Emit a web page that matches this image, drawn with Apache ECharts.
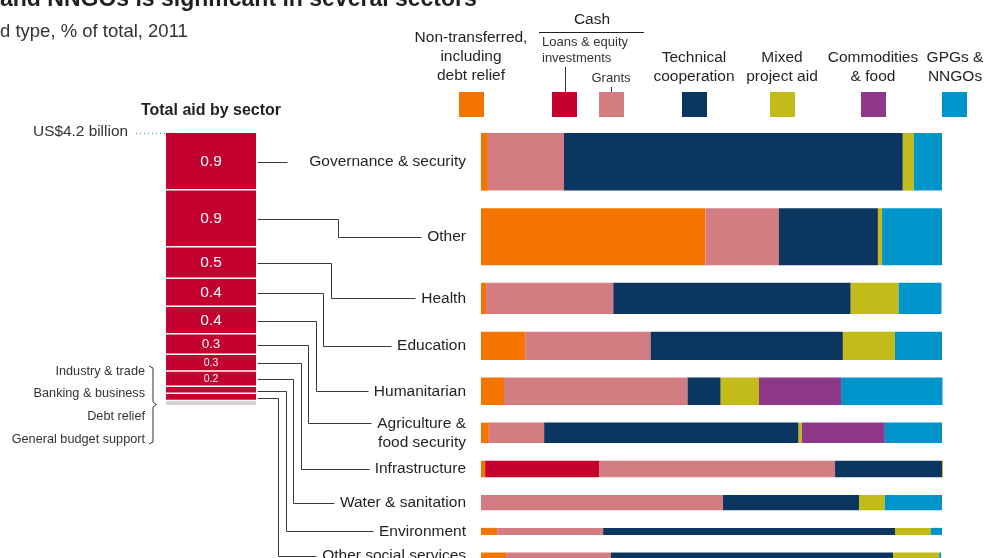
<!DOCTYPE html>
<html>
<head>
<meta charset="utf-8">
<script src="https://cdn.jsdelivr.net/npm/echarts@6/dist/echarts.min.js"></script>
<style>html,body{margin:0;padding:0;background:#fff}#c{width:984px;height:558px}</style>
</head>
<body>
<div id="c"></div>
<script>
// ---------------- DATA ----------------
const sectors = ['Governance & security', 'Other', 'Health', 'Education', 'Humanitarian',
  'Agriculture &\nfood security', 'Infrastructure', 'Water & sanitation', 'Environment', 'Other social services'];
const totalAid = [0.9, 0.89, 0.49, 0.44, 0.43, 0.32, 0.26, 0.24, 0.11, 0.11]; // US$ billion
const smallSectors = ['Industry & trade', 'Banking & business', 'Debt relief', 'General budget support'];
const smallAid = [0.015, 0.015, 0.015, 0.015];
const totalLabel = 'US$4.2 billion';

const aidTypes = ['Non-transferred, including debt relief', 'Loans & equity investments', 'Grants',
  'Technical cooperation', 'Mixed project aid', 'Commodities & food', 'GPGs & NNGOs'];
// % of sector total
const nonTransferred = [1.5, 48.7, 1.1, 9.6, 5.0, 1.7, 0.9, 0, 3.5, 5.6];
const loansEquity    = [0, 0, 0, 0, 0, 0, 24.7, 0, 0, 0];
const grants         = [16.5, 15.9, 27.6, 27.2, 39.8, 12.0, 51.2, 52.5, 23.0, 22.6];
const technical      = [73.5, 21.5, 51.5, 41.7, 7.2, 55.2, 23.2, 29.5, 63.3, 61.2];
const mixedProject   = [2.4, 0.9, 10.4, 11.3, 8.3, 0.7, 0.2, 5.6, 7.8, 10.0];
const commodities    = [0, 0, 0, 0, 17.8, 18.0, 0, 0, 0, 0];
const gpgsNngos      = [6.1, 13.0, 9.3, 10.2, 22.0, 12.4, 0, 12.4, 2.4, 0.4];

// ---------------- STYLE / LAYOUT ----------------
const shares = [nonTransferred, loansEquity, grants, technical, mixedProject, commodities, gpgsNngos];
const colors = ['#F37500', '#C4002F', '#D37C82', '#0B3660', '#C2BB1A', '#8F3889', '#0094CB'];
const FONT = '"Liberation Sans", Arial, sans-serif';
const TXT = '#231f20';
const GAP = 0.275;            // gap between bars, in axis units
const GRID_TOP = 133, GRID_H = 425, PX_PER_UNIT = 64;
const Y_MAX = GRID_H / PX_PER_UNIT;
const COL_LEFT = 166, COL_W = 90, BAR_LEFT = 481, BAR_RIGHT = 42;

// row positions (axis units) derived from data
const rowStart = [];
let acc = 0;
totalAid.forEach((v, i) => { rowStart.push(acc); acc += v + GAP; });
const colStart = [];
let c = 0;
totalAid.forEach(v => { colStart.push(c); c += v; });
const smallStart = [];
smallAid.forEach(v => { smallStart.push(c); c += v; });

const measure = document.createElement('canvas').getContext('2d');
measure.font = '15.5px ' + FONT;

// ---------------- SERIES ----------------
const series = [];
shares.forEach((arr, k) => {
  const data = arr.map((v, i) => {
    let s = 0;
    for (let j = 0; j < k; j++) s += shares[j][i];
    return [s, s + v, rowStart[i], rowStart[i] + totalAid[i]];
  });
  series.push({
    type: 'custom', name: aidTypes[k], xAxisIndex: 1, yAxisIndex: 1, clip: false,
    encode: { x: [0, 1], y: [2, 3] },
    data: data,
    renderItem: function (params, api) {
      const a = api.coord([api.value(0), api.value(2)]);
      const b = api.coord([api.value(1), api.value(3)]);
      if (b[0] - a[0] <= 0) return null;
      return { type: 'rect', shape: { x: a[0], y: a[1], width: b[0] - a[0], height: b[1] - a[1] },
        style: { fill: colors[k] } };
    }
  });
});

// left column
const colData = totalAid.map((v, i) => [0, 1, colStart[i], colStart[i] + v, v, 0])
  .concat(smallAid.map((v, i) => [0, 1, smallStart[i], smallStart[i] + v, v, 1]));
series.push({
  type: 'custom', xAxisIndex: 0, yAxisIndex: 0, clip: false,
  encode: { x: [0, 1], y: [2, 3] },
  data: colData,
  renderItem: function (params, api) {
    const a = api.coord([api.value(0), api.value(2)]);
    const b = api.coord([api.value(1), api.value(3)]);
    const small = api.value(5) === 1;
    const h = b[1] - a[1];
    const children = [{
      type: 'rect',
      shape: { x: a[0], y: a[1], width: b[0] - a[0], height: small ? h : Math.max(h - 1.5, 1) },
      style: { fill: small ? '#d6d0d2' : '#C4002F' }
    }];
    if (!small && h >= 12) {
      const fs = Math.max(10.5, Math.min(15.5, h - 7));
      children.push({
        type: 'text',
        style: { text: api.value(4).toFixed(1), x: (a[0] + b[0]) / 2, y: a[1] + h / 2 - 0.5,
          align: 'center', verticalAlign: 'middle', fill: '#fff', fontSize: fs, fontFamily: FONT }
      });
    }
    return { type: 'group', children: children };
  }
});

// connectors + sector labels
const connData = sectors.map((s, i) => [0, rowStart[i] + totalAid[i] / 2, colStart[i] + totalAid[i] / 2, i]);
series.push({
  type: 'custom', xAxisIndex: 1, yAxisIndex: 1, clip: false,
  encode: { x: 0, y: 1 },
  data: connData,
  renderItem: function (params, api) {
    const i = api.value(3);
    const pr = api.coord([0, api.value(1)]);
    const pc = api.coord([0, api.value(2)]);
    const lines = sectors[i].split('\n');
    const lh = 19;
    const labelRight = pr[0] - 15;
    const firstY = pr[1] - (lines.length - 1) * lh / 2;
    const w = measure.measureText(lines[0]).width;
    const endX = labelRight - w - 6;
    const x0 = COL_LEFT + COL_W + 1;
    const elbow = i === 0 ? 287 : 338 - 7.5 * (i - 1);
    const pts = i === 0 ? [[x0, pc[1]], [elbow, pc[1]]]
      : [[x0, pc[1]], [elbow, pc[1]], [elbow, firstY], [endX, firstY]];
    return {
      type: 'group',
      children: [
        { type: 'polyline', shape: { points: pts.map(p => [Math.round(p[0]) + 0.5, Math.round(p[1]) + 0.5]) },
          style: { stroke: '#3a3a3a', lineWidth: 1, fill: null } },
        { type: 'text', style: { text: sectors[i], x: labelRight, y: pr[1], align: 'right', verticalAlign: 'middle',
          fontSize: 15.5, fontFamily: FONT, fill: TXT, lineHeight: lh } }
      ]
    };
  }
});

// ---------------- GRAPHIC (titles, legend) ----------------
const legendX = [459, 552, 599, 682, 770, 861, 942];
const graphic = [
  { type: 'text', left: 0, top: -12, style: { text: 'and NNGOs is significant in several sectors',
    fontSize: 23, fontWeight: 'bold', fontFamily: FONT, fill: TXT } },
  { type: 'text', x: 0, y: 32, style: { text: 'd type, % of total, 2011', fontSize: 18.5, fontFamily: FONT,
    fill: '#333', verticalAlign: 'middle' } },
  { type: 'text', x: COL_LEFT + COL_W / 2, y: 111, style: { text: 'Total aid by sector', fontSize: 16,
    fontWeight: 'bold', fontFamily: FONT, fill: TXT, align: 'center', verticalAlign: 'middle' } },
  { type: 'text', x: 128, y: 132, style: { text: totalLabel, fontSize: 15.4, fontFamily: FONT, fill: '#333',
    align: 'right', verticalAlign: 'middle' } },
  { type: 'line', shape: { x1: 136, y1: 133.5, x2: 165, y2: 133.5 },
    style: { stroke: '#4fa8d8', lineWidth: 1.3, lineDash: [1, 3] } },
  { type: 'polyline', shape: { points: [[149, 366], [153, 368], [153, 402], [156.5, 404.5], [153, 407], [153, 442], [149, 444]] },
    style: { stroke: '#333', lineWidth: 1, fill: null } }
];
smallSectors.forEach((s, i) => {
  graphic.push({ type: 'text', x: 145, y: 371 + i * 22.7, style: { text: s, fontSize: 12.7, fontFamily: FONT,
    fill: '#333', align: 'right', verticalAlign: 'middle' } });
});
// legend squares
colors.forEach((col, k) => {
  graphic.push({ type: 'rect', shape: { x: legendX[k], y: 92, width: 25, height: 25 }, style: { fill: col } });
});
const legendHead = [
  { t: 'Non-transferred,\nincluding\ndebt relief', x: 471, y: 57 },
  { t: 'Technical\ncooperation', x: 694, y: 67.5 },
  { t: 'Mixed\nproject aid', x: 782, y: 67.5 },
  { t: 'Commodities\n& food', x: 873, y: 67.5 },
  { t: 'GPGs &\nNNGOs', x: 955, y: 67.5 }
];
legendHead.forEach(h => {
  graphic.push({ type: 'text', x: h.x, y: h.y, style: { text: h.t, fontSize: 15.5, fontFamily: FONT, fill: TXT,
    align: 'center', verticalAlign: 'middle', lineHeight: 19 } });
});
graphic.push(
  { type: 'text', x: 592, y: 20, style: { text: 'Cash', fontSize: 15.5, fontFamily: FONT, fill: TXT, align: 'center', verticalAlign: 'middle' } },
  { type: 'line', shape: { x1: 539, y1: 32.5, x2: 644, y2: 32.5 }, style: { stroke: '#231f20', lineWidth: 1 } },
  { type: 'text', x: 542, y: 50, style: { text: 'Loans & equity\ninvestments', fontSize: 13, fontFamily: FONT, fill: '#333',
    align: 'left', verticalAlign: 'middle', lineHeight: 16 } },
  { type: 'line', shape: { x1: 565.5, y1: 67, x2: 565.5, y2: 92 }, style: { stroke: '#333', lineWidth: 1 } },
  { type: 'text', x: 611, y: 78, style: { text: 'Grants', fontSize: 13, fontFamily: FONT, fill: '#333', align: 'center', verticalAlign: 'middle' } },
  { type: 'line', shape: { x1: 611.5, y1: 87, x2: 611.5, y2: 92 }, style: { stroke: '#333', lineWidth: 1 } }
);

const chart = echarts.init(document.getElementById('c'), null, { renderer: 'canvas' });
chart.setOption({
  animation: false,
  grid: [
    { left: COL_LEFT, top: GRID_TOP, width: COL_W, height: GRID_H },
    { left: BAR_LEFT, top: GRID_TOP, right: BAR_RIGHT, height: GRID_H }
  ],
  xAxis: [
    { gridIndex: 0, type: 'value', min: 0, max: 1, show: false },
    { gridIndex: 1, type: 'value', min: 0, max: 100, show: false }
  ],
  yAxis: [
    { gridIndex: 0, type: 'value', min: 0, max: Y_MAX, inverse: true, show: false },
    { gridIndex: 1, type: 'value', min: 0, max: Y_MAX, inverse: true, show: false }
  ],
  graphic: graphic,
  series: series
});
</script>
</body>
</html>
